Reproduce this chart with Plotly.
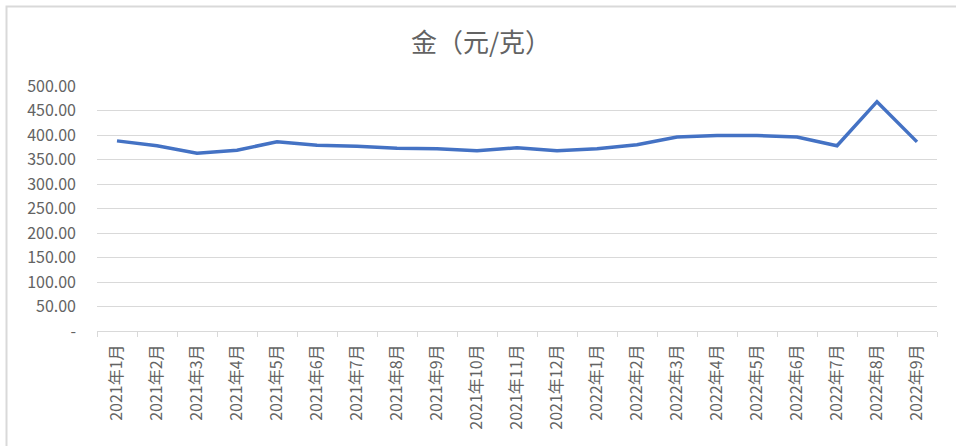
import plotly.graph_objects as go

months = ["2021年1月", "2021年2月", "2021年3月", "2021年4月", "2021年5月", "2021年6月",
          "2021年7月", "2021年8月", "2021年9月", "2021年10月", "2021年11月", "2021年12月",
          "2022年1月", "2022年2月", "2022年3月", "2022年4月", "2022年5月", "2022年6月",
          "2022年7月", "2022年8月", "2022年9月"]
gold_price = [388, 378, 363, 369, 386, 379, 377, 373, 372, 368, 374, 368,
              372, 380, 396, 399, 399, 396, 378, 468, 386]
y_tickvals = [0, 50, 100, 150, 200, 250, 300, 350, 400, 450, 500]
y_ticktext = ["-", "50.00", "100.00", "150.00", "200.00", "250.00", "300.00",
              "350.00", "400.00", "450.00", "500.00"]

font_family = "Noto Sans CJK SC, Noto Sans, sans-serif"
gray = "#636363"

fig = go.Figure()
fig.add_trace(go.Scatter(
    x=months, y=gold_price, mode="lines",
    line=dict(color="#4472C4", width=3.5),
    hoverinfo="x+y",
))

fig.update_layout(
    width=956, height=446,
    margin=dict(l=97, r=19, t=86, b=115),
    paper_bgcolor="white", plot_bgcolor="white",
    showlegend=False,
    title=dict(text="金（元/克）", x=481 / 956, xref="container", xanchor="center",
               y=1 - 42.5 / 446, yref="container", yanchor="middle",
               font=dict(family=font_family, size=26, color=gray)),
    font=dict(family=font_family, color=gray),
    xaxis=dict(
        type="category", tickangle=-90, tickson="boundaries",
        ticks="outside", ticklen=5, tickcolor="#d9d9d9", tickwidth=1,
        showline=True, linecolor="#d9d9d9", linewidth=1,
        showgrid=False, tickfont=dict(size=16, color=gray, family=font_family),
        ticklabelstandoff=6,
        range=[-0.5, len(months) - 0.5], fixedrange=True,
    ),
    yaxis=dict(
        range=[0, 500], tickvals=y_tickvals, ticktext=y_ticktext,
        showgrid=True, gridcolor="#d9d9d9", gridwidth=1,
        zeroline=False, showline=False, ticks="",
        tickfont=dict(size=16, color=gray, family=font_family),
        ticklabelstandoff=20, fixedrange=True,
    ),
    shapes=[dict(type="rect", xref="paper", yref="paper",
                 x0=(6.5 - 97) / 840, x1=1.2, y0=-1.0, y1=(331 - 6.5) / 245,
                 line=dict(color="#d9d9d9", width=2), fillcolor="rgba(0,0,0,0)",
                 layer="below")],
)

fig.write_html("out.html", config={"displayModeBar": False},
               post_script="document.body.style.margin='0';")
